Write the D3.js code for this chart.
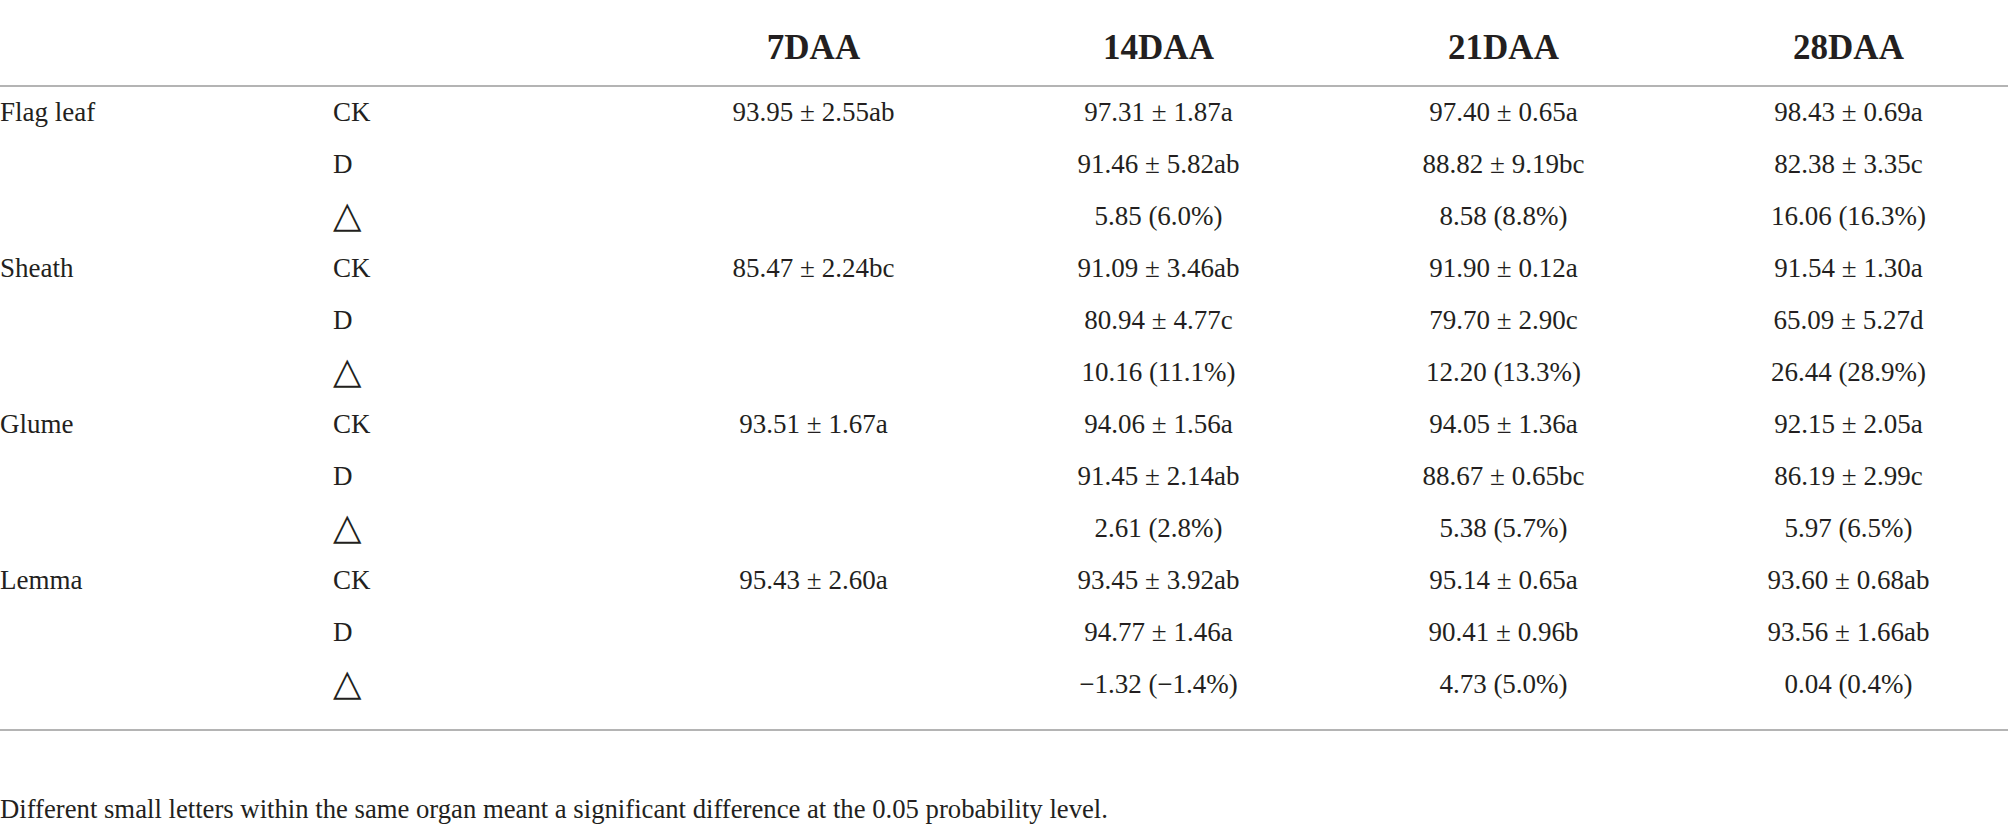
<!DOCTYPE html>
<html>
<head>
<meta charset="utf-8">
<script src="https://cdn.jsdelivr.net/npm/d3@7"></script>
<style>
body { margin: 0; background: #fff; }
svg { display: block; }
text { font-family: "Liberation Serif", "DejaVu Serif", serif; fill: #231f20; }
</style>
</head>
<body>
<svg></svg>
<script>
var days = ["7DAA", "14DAA", "21DAA", "28DAA"];
var organs = ["Flag leaf", "Sheath", "Glume", "Lemma"];
var treatments = ["CK", "D", "\u25B3"];

// CK mean, sd and letter per organ (rows) and day (cols)
var ckMean = [[93.95, 97.31, 97.40, 98.43], [85.47, 91.09, 91.90, 91.54], [93.51, 94.06, 94.05, 92.15], [95.43, 93.45, 95.14, 93.60]];
var ckSd = [[2.55, 1.87, 0.65, 0.69], [2.24, 3.46, 0.12, 1.30], [1.67, 1.56, 1.36, 2.05], [2.60, 3.92, 0.65, 0.68]];
var ckLetter = [["ab", "a", "a", "a"], ["bc", "ab", "a", "a"], ["a", "a", "a", "a"], ["a", "ab", "a", "ab"]];

// D has no 7DAA value
var dMean = [[null, 91.46, 88.82, 82.38], [null, 80.94, 79.70, 65.09], [null, 91.45, 88.67, 86.19], [null, 94.77, 90.41, 93.56]];
var dSd = [[null, 5.82, 9.19, 3.35], [null, 4.77, 2.90, 5.27], [null, 2.14, 0.65, 2.99], [null, 1.46, 0.96, 1.66]];
var dLetter = [[null, "ab", "bc", "c"], [null, "c", "c", "d"], [null, "ab", "bc", "c"], [null, "a", "b", "ab"]];

var deltaVal = [[null, 5.85, 8.58, 16.06], [null, 10.16, 12.20, 26.44], [null, 2.61, 5.38, 5.97], [null, -1.32, 4.73, 0.04]];
var deltaPct = [[null, 6.0, 8.8, 16.3], [null, 11.1, 13.3, 28.9], [null, 2.8, 5.7, 6.5], [null, -1.4, 5.0, 0.4]];

var footnote = "Different small letters within the same organ meant a significant difference at the 0.05 probability level.";

var width = 2008, height = 836;
var svg = d3.select("svg").attr("width", width).attr("height", height);

var f2 = d3.format(".2f"), f1 = d3.format(".1f");

var rows = [];
organs.forEach(function(o, i){
	treatments.forEach(function(t, j){
		rows.push({organ: o, oi: i, treat: t, ti: j, key: o + "|" + t});
	});
});

var x = d3.scaleBand().domain(days).range([641, 2021]);
var y = d3.scaleBand().domain(rows.map(d => d.key)).range([86, 86 + rows.length * 52]);
var cx = d => x(d) + x.bandwidth() / 2;
var cy = k => y(k) + y.bandwidth() / 2;

function cell(r, di){
	var i = r.oi;
	if (r.ti == 0) return f2(ckMean[i][di]) + " \u00B1 " + f2(ckSd[i][di]) + ckLetter[i][di];
	if (r.ti == 1) return dMean[i][di] == null ? "" : f2(dMean[i][di]) + " \u00B1 " + f2(dSd[i][di]) + dLetter[i][di];
	return deltaVal[i][di] == null ? "" : f2(deltaVal[i][di]) + " (" + f1(deltaPct[i][di]) + "%)";
}

// rules
svg.selectAll("line.rule")
	.data([86, y.range()[1] + 20])
	.enter().append("line").classed("rule", true)
	.attr("x1", 0).attr("x2", width)
	.attr("y1", d => d).attr("y2", d => d)
	.attr("stroke", "#9b9b9b").attr("stroke-width", 1.6);

// header
svg.selectAll("text.head")
	.data(days)
	.enter().append("text").classed("head", true)
	.attr("x", d => cx(d))
	.attr("y", 47)
	.attr("text-anchor", "middle")
	.attr("dominant-baseline", "central")
	.style("font-weight", "bold")
	.style("font-size", "35px")
	.text(d => d);

// organ labels
svg.selectAll("text.organ")
	.data(rows.filter(d => d.ti == 0))
	.enter().append("text").classed("organ", true)
	.attr("x", 0)
	.attr("y", d => cy(d.key))
	.attr("dominant-baseline", "central")
	.style("font-size", "27px")
	.text(d => d.organ);

// treatment labels
svg.selectAll("text.treat")
	.data(rows)
	.enter().append("text").classed("treat", true)
	.attr("x", 333)
	.attr("y", d => cy(d.key) + (d.ti == 2 ? -2 : 0))
	.attr("dominant-baseline", "central")
	.style("font-size", d => d.ti == 2 ? "37px" : "27px")
	.style("font-family", d => d.ti == 2 ? "'DejaVu Sans'" : null)
	.text(d => d.treat);

// values
var rowG = svg.selectAll("g.row")
	.data(rows)
	.enter().append("g").classed("row", true);

rowG.selectAll("text.val")
	.data(r => days.map((d, di) => ({day: d, text: cell(r, di), key: r.key})))
	.enter().append("text").classed("val", true)
	.attr("x", d => cx(d.day))
	.attr("y", d => cy(d.key))
	.attr("text-anchor", "middle")
	.attr("dominant-baseline", "central")
	.style("font-size", "27px")
	.text(d => d.text);

// footnote
svg.append("text")
	.attr("x", 0)
	.attr("y", 809)
	.attr("dominant-baseline", "central")
	.style("font-size", "26.7px")
	.text(footnote);
</script>
</body>
</html>
